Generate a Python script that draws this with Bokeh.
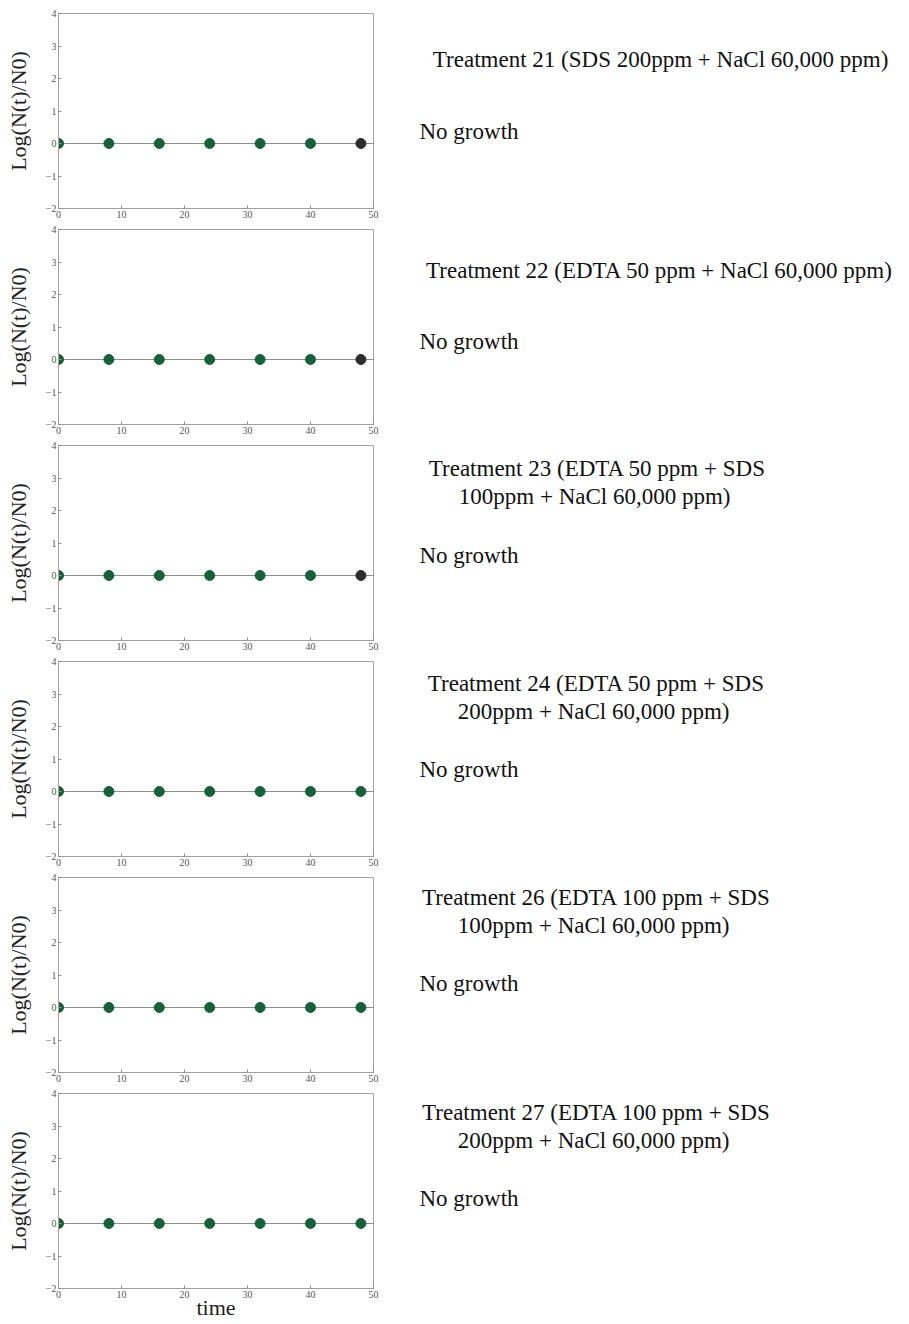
from bokeh.plotting import figure
from bokeh.layouts import column, row
from bokeh.models import Range1d, FixedTicker, ColumnDataSource
from bokeh.core.properties import value
from bokeh.embed import file_html
from bokeh.resources import INLINE

# ---------------- data ----------------
time = [0, 8, 16, 24, 32, 40, 48]
log_t21 = [0, 0, 0, 0, 0, 0, 0]
log_t22 = [0, 0, 0, 0, 0, 0, 0]
log_t23 = [0, 0, 0, 0, 0, 0, 0]
log_t24 = [0, 0, 0, 0, 0, 0, 0]
log_t26 = [0, 0, 0, 0, 0, 0, 0]
log_t27 = [0, 0, 0, 0, 0, 0, 0]
fit_x = [0, 50]
fit_y = [0, 0]
x_ticks = [0, 10, 20, 30, 40, 50]
y_ticks = [-2, -1, 0, 1, 2, 3, 4]

titles = [
    ["Treatment 21 (SDS 200ppm + NaCl  60,000 ppm)"],
    ["Treatment 22 (EDTA 50 ppm + NaCl  60,000 ppm)"],
    ["Treatment 23 (EDTA 50 ppm + SDS", "100ppm + NaCl  60,000 ppm)"],
    ["Treatment 24 (EDTA 50 ppm + SDS", "200ppm + NaCl  60,000 ppm)"],
    ["Treatment 26 (EDTA 100 ppm + SDS", "100ppm + NaCl  60,000 ppm)"],
    ["Treatment 27 (EDTA 100 ppm + SDS", "200ppm + NaCl  60,000 ppm)"],
]
notes = ["No growth"] * 6
series = [log_t21, log_t22, log_t23, log_t24, log_t26, log_t27]
last_dark = [True, True, True, False, False, False]
x_label = "time"
y_label = "Log(N(t)/N0)"

# ---------------- layout / style ----------------
FONT = "Liberation Serif"
GREEN = "#17603a"
DARK = "#2b2b2b"
PLOT_W = 388
TEXT_W = 518
FRAME_H = 195
TOP_EXTRA = 7
LAST_BOTTOM = 35
# per-panel text layout (text-figure pixel coords, y downward, relative to frame top)
title_pos = [
    (275, [46]), (274, [41]), (209, [23, 51]), (208, [22, 50]),
    (208, [20, 48]), (208, [19, 47]),
]
note_pos = [(31, 118), (31, 112), (31, 110), (31, 108), (31, 106), (31, 105)]

items = []
for i, ys in enumerate(series):
    first = i == 0
    last = i == len(series) - 1
    top = 6 + (TOP_EXTRA if first else 0)
    bottom = LAST_BOTTOM if last else 15
    h = top + FRAME_H + bottom
    p = figure(width=PLOT_W, height=h, output_backend="svg", toolbar_location=None,
               x_range=Range1d(0, 50), y_range=Range1d(-2, 4),
               min_border_left=58, min_border_top=top,
               min_border_bottom=bottom, min_border_right=15)
    p.grid.visible = False
    p.outline_line_color = "#a0a0a0"
    p.outline_line_width = 1
    for ax in (p.xaxis[0], p.yaxis[0]):
        ax.axis_line_color = "#a0a0a0"
        ax.major_tick_line_color = "#909090"
        ax.minor_tick_line_color = None
        ax.major_tick_in = 3
        ax.major_tick_out = 0
        ax.major_label_text_font = FONT
        ax.major_label_text_font_size = "10px"
        ax.major_label_text_color = "#555555"
        ax.major_label_standoff = 2
    p.xaxis.ticker = FixedTicker(ticks=x_ticks)
    p.yaxis.ticker = FixedTicker(ticks=y_ticks)
    p.yaxis.axis_label = y_label
    p.yaxis.axis_label_text_font = FONT
    p.yaxis.axis_label_text_font_size = "22px"
    p.yaxis.axis_label_text_font_style = "normal"
    p.yaxis.axis_label_text_color = "#222222"
    p.yaxis.axis_label_standoff = 12
    if last:
        p.xaxis.axis_label = x_label
        p.xaxis.axis_label_text_font = FONT
        p.xaxis.axis_label_text_font_size = "22px"
        p.xaxis.axis_label_text_font_style = "normal"
        p.xaxis.axis_label_text_color = "#222222"
        p.xaxis.axis_label_standoff = -6

    p.line(fit_x, fit_y, line_color="#8c8c8c", line_width=1)
    src = ColumnDataSource(dict(t=time[:-1], y=ys[:-1]))
    p.scatter("t", "y", source=src, size=10, fill_color=GREEN, line_color=GREEN)
    lsrc = ColumnDataSource(dict(t=time[-1:], y=ys[-1:]))
    c = DARK if last_dark[i] else GREEN
    p.scatter("t", "y", source=lsrc, size=10, fill_color=c, line_color=c)

    # text panel: its frame is aligned with the plot frame in the row,
    # so one unit == one pixel measured down from the frame top
    tf = figure(width=TEXT_W, height=h, output_backend="svg", toolbar_location=None,
                x_range=Range1d(0, TEXT_W), y_range=Range1d(FRAME_H, 0),
                x_axis_location=None, y_axis_location=None,
                min_border_left=0, min_border_right=0,
                min_border_top=top, min_border_bottom=bottom,
                outline_line_color=None)
    tf.grid.visible = False
    cx, tys = title_pos[i]
    tf.text(x=[cx] * len(tys), y=tys, text=titles[i], text_align="center",
            text_baseline="middle", text_font=value(FONT), text_font_size="23px",
            text_color="#111111")
    nx, ny = note_pos[i]
    tf.text(x=[nx], y=[ny], text=[notes[i]], text_align="left",
            text_baseline="middle", text_font=value(FONT), text_font_size="23px",
            text_color="#111111")
    items.append(row(p, tf, spacing=0))

layout = column(*items, spacing=0)
open("out.html", "w").write(file_html(layout, INLINE))
